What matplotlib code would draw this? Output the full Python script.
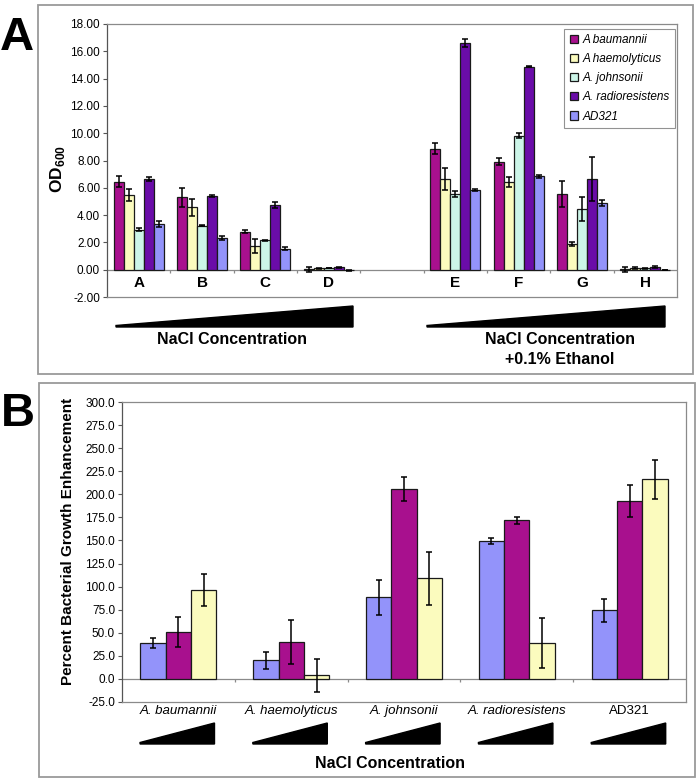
# Acinetobacter growth under NaCl: OD600 (A) and percent enhancement (B)

import numpy as np
import matplotlib
matplotlib.use('Agg')
from matplotlib import pyplot as plt
from matplotlib.patches import Rectangle, Polygon
from matplotlib.transforms import blended_transform_factory

plt.rcParams['font.family'] = ['Liberation Sans', 'DejaVu Sans']
plt.rcParams['mathtext.fontset'] = 'custom'
plt.rcParams['mathtext.bf'] = 'Liberation Sans:bold'
plt.rcParams['mathtext.rm'] = 'Liberation Sans'

# ---- panel A data ----
conditions = ['A', 'B', 'C', 'D', 'E', 'F', 'G', 'H']
strains_a = ['A baumannii', 'A haemolyticus', 'A. johnsonii', 'A. radioresistens', 'AD321']
baumannii_od = [6.46, 5.29, 2.78, 0.02, 8.85, 7.92, 5.58, 0.02]
baumannii_err = [0.40, 0.70, 0.12, 0.20, 0.40, 0.25, 0.95, 0.20]
haemolyticus_od = [5.49, 4.56, 1.76, 0.10, 6.63, 6.41, 1.90, 0.12]
haemolyticus_err = [0.45, 0.60, 0.50, 0.05, 0.80, 0.35, 0.15, 0.10]
johnsonii_od = [2.93, 3.22, 2.15, 0.12, 5.54, 9.83, 4.46, 0.10]
johnsonii_err = [0.10, 0.05, 0.05, 0.03, 0.25, 0.20, 0.90, 0.04]
radioresistens_od = [6.63, 5.41, 4.75, 0.18, 16.63, 14.88, 6.63, 0.22]
radioresistens_err = [0.15, 0.05, 0.20, 0.05, 0.30, 0.05, 1.60, 0.08]
ad321_od = [3.34, 2.32, 1.54, -0.05, 5.83, 6.83, 4.90, -0.03]
ad321_err = [0.20, 0.15, 0.10, 0.02, 0.05, 0.10, 0.20, 0.02]

# ---- panel B data ----
strains_b = ['A. baumannii', 'A. haemolyticus', 'A. johnsonii', 'A. radioresistens', 'AD321']
low_pct = [38.8, 20.0, 88.6, 149.3, 74.2]
low_err = [5.0, 9.5, 19.0, 3.0, 12.5]
mid_pct = [50.7, 39.9, 205.7, 171.7, 192.6]
mid_err = [16.5, 24.0, 12.8, 3.5, 17.5]
high_pct = [96.2, 4.1, 108.9, 38.8, 216.1]
high_err = [17.7, 18.0, 28.5, 27.0, 21.0]

magenta = '#A8108E'
yellow = '#FBFBBE'
mint = '#CCF5E8'
purple = '#6A0CA8'
blue = '#9393FA'

W, H = 699, 784
fig = plt.figure(figsize=(W / 100, H / 100), dpi=100)


def px_rect(x0, y0, x1, y1):
    return [x0 / W, 1 - y1 / H, (x1 - x0) / W, (y1 - y0) / H]


def fig_xy(x, y):
    return (x / W, 1 - y / H)


# panel outer boxes
for x0, y0, x1, y1 in [(38, 5, 693, 374), (39, 383, 695, 777)]:
    fig.patches.append(Rectangle(fig_xy(x0, y1), (x1 - x0) / W, (y1 - y0) / H,
                                 transform=fig.transFigure, fill=False,
                                 edgecolor='#9a9a9a', linewidth=1.3))

fig.text(*fig_xy(17, 38), 'A', fontsize=34, fontweight='bold', ha='center', va='center')
fig.text(*fig_xy(18, 414), 'B', fontsize=34, fontweight='bold', ha='center', va='center')

err_kw = dict(ecolor='black', elinewidth=1.1, capsize=2.5, capthick=1.1)

# ---------------- panel A ----------------
ax = fig.add_axes(px_rect(107, 24, 677, 297))
pos = np.array([i + (1 if i >= 4 else 0) for i in range(len(conditions))], dtype=float)
series = [(baumannii_od, baumannii_err, magenta), (haemolyticus_od, haemolyticus_err, yellow),
          (johnsonii_od, johnsonii_err, mint), (radioresistens_od, radioresistens_err, purple),
          (ad321_od, ad321_err, blue)]
bw = 0.158
for k, (vals, errs, col) in enumerate(series):
    ax.bar(pos + (k - 2) * bw, vals, bw, yerr=errs, color=col, edgecolor='#1a1a1a',
           linewidth=0.9, label=strains_a[k], error_kw=err_kw, zorder=3)
ax.set_xlim(-0.5, 8.5)
ax.set_ylim(-2, 18)
ax.set_yticks(np.arange(-2, 18.1, 2))
ax.set_yticklabels(['%.2f' % v for v in np.arange(-2, 18.1, 2)], fontsize=8.5)
ax.tick_params(axis='y', length=3, width=0.8, color='#555555', pad=2)
ax.set_xticks([])
for s in ax.spines.values():
    s.set_color('#8a8a8a')
    s.set_linewidth(0.9)
ax.spines['left'].set_color('#555555')
ax.axhline(0, color='#8a8a8a', linewidth=0.9, zorder=2)
ax.vlines(np.arange(0.5, 8.5, 1), -0.22, 0, color='#8a8a8a', linewidth=0.9)
for p, c in zip(pos, conditions):
    ax.text(p, -1.0, c, ha='center', va='center', fontsize=11, fontweight='bold')
ax.set_ylabel(r'$\mathbf{OD}_{\mathbf{600}}$', fontsize=12.5, labelpad=4)
ax.yaxis.set_label_coords(-0.071, 0.47)
leg = ax.legend(loc='upper right', bbox_to_anchor=(0.997, 0.982),
                prop={'style': 'italic', 'size': 8.5}, frameon=True, fancybox=False,
                handlelength=0.7, handleheight=0.7, handletextpad=0.4,
                labelspacing=0.6, borderpad=0.45, borderaxespad=0)
leg.get_frame().set_edgecolor('#777777')
leg.get_frame().set_linewidth(0.8)

# wedges and captions below panel A
for x0, x1 in [(116, 353), (427, 665)]:
    fig.patches.append(Polygon([fig_xy(x0, 327), fig_xy(x0, 325.5), fig_xy(x1, 306), fig_xy(x1, 327)],
                               closed=True, transform=fig.transFigure, color='black'))
fig.text(*fig_xy(232, 340), 'NaCl Concentration', fontsize=11.5, fontweight='bold',
         ha='center', va='center')
fig.text(*fig_xy(560, 339), 'NaCl Concentration', fontsize=11.5, fontweight='bold',
         ha='center', va='center')
fig.text(*fig_xy(560, 360), '+0.1% Ethanol', fontsize=11.5, fontweight='bold',
         ha='center', va='center')

# ---------------- panel B ----------------
bx = fig.add_axes(px_rect(122, 402, 686, 702))
gpos = np.arange(len(strains_b))
bw2 = 0.225
for k, (vals, errs, col) in enumerate([(low_pct, low_err, blue), (mid_pct, mid_err, magenta),
                                        (high_pct, high_err, yellow)]):
    bx.bar(gpos + (k - 1) * bw2, vals, bw2, yerr=errs, color=col, edgecolor='#1a1a1a',
           linewidth=0.9, error_kw=err_kw, zorder=3)
bx.set_xlim(-0.5, 4.5)
bx.set_ylim(-25, 300)
bx.set_yticks(np.arange(-25, 301, 25))
bx.set_yticklabels(['%.1f' % v for v in np.arange(-25, 301, 25)], fontsize=8.5)
bx.tick_params(axis='y', length=3, width=0.8, color='#555555', pad=2)
bx.set_xticks([])
for s in bx.spines.values():
    s.set_color('#8a8a8a')
    s.set_linewidth(0.9)
bx.spines['left'].set_color('#555555')
bx.axhline(0, color='#8a8a8a', linewidth=0.9, zorder=2)
bx.vlines(np.arange(0.5, 4.5, 1), -3, 0, color='#8a8a8a', linewidth=0.9)
bx.set_ylabel('Percent Bacterial Growth Enhancement', fontsize=11, fontweight='bold')
bx.yaxis.set_label_coords(-0.083, 0.535)

tr = blended_transform_factory(bx.transData, fig.transFigure)
for g, name in zip(gpos, strains_b):
    bx.text(g, 1 - 711 / H, name, transform=tr, ha='center', va='center', fontsize=9.5,
            style='normal' if name == 'AD321' else 'italic')
    bx.add_patch(Polygon([(g - 0.34, 1 - 744 / H), (g - 0.34, 1 - 742.5 / H),
                          (g + 0.32, 1 - 723 / H), (g + 0.32, 1 - 744 / H)],
                         closed=True, transform=tr, color='black', clip_on=False))
fig.text(*fig_xy(390, 763), 'NaCl Concentration', fontsize=11.5, fontweight='bold',
         ha='center', va='center')

fig.savefig('out.png', dpi=100)
